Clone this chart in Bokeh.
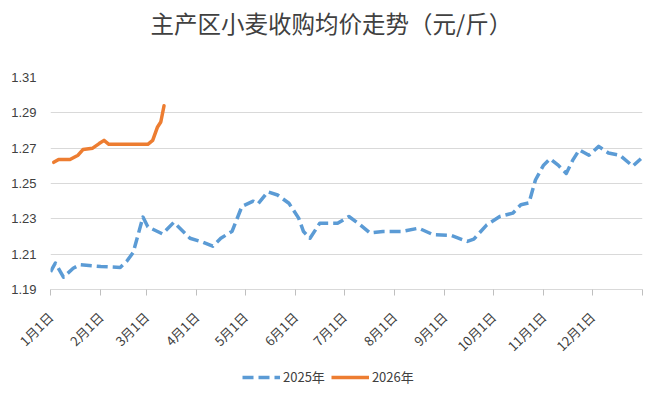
import pandas as pd
from bokeh.plotting import figure
from bokeh.layouts import column
from bokeh.models import (FixedTicker, Legend, LegendItem, NumeralTickFormatter)
from bokeh.embed import file_html
from bokeh.resources import INLINE

# ---------------- data ----------------
title_text = "主产区小麦收购均价走势（元/斤）"

dates_2025 = ["01-01", "01-04", "01-09", "01-15", "01-19", "02-01", "02-13", "02-17",
              "02-21", "02-27", "03-02", "03-11", "03-18", "03-28", "04-05", "04-11",
              "04-16", "04-23", "04-29", "05-06", "05-09", "05-15", "05-21", "05-28",
              "06-03", "06-06", "06-10", "06-16", "06-27", "07-04", "07-11", "07-17",
              "07-25", "08-05", "08-16", "08-25", "09-05", "09-15", "09-19", "09-27",
              "10-05", "10-13", "10-18", "10-23", "10-27", "11-01", "11-05", "11-10",
              "11-15", "11-19", "11-23", "11-29", "12-05", "12-11", "12-18", "12-26",
              "12-31"]
price_2025 = [1.200, 1.205, 1.197, 1.202, 1.204, 1.203, 1.2025, 1.206,
              1.211, 1.231, 1.2255, 1.2215, 1.228, 1.219, 1.2168, 1.2145,
              1.219, 1.223, 1.237, 1.240, 1.2385, 1.2453, 1.2435, 1.2388,
              1.2304, 1.2228, 1.219, 1.2275, 1.2275, 1.2313, 1.2266, 1.222,
              1.2228, 1.2228, 1.2247, 1.221, 1.2206, 1.2172, 1.2185, 1.2266,
              1.2313, 1.2332, 1.238, 1.239, 1.252, 1.2604, 1.264, 1.2604,
              1.2557, 1.2632, 1.269, 1.266, 1.271, 1.2673, 1.266, 1.2598,
              1.2640]

dates_2026 = ["01-03", "01-06", "01-13", "01-18", "01-21", "01-27", "01-31", "02-03",
              "02-06", "02-17", "03-02", "03-05", "03-08", "03-10", "03-12"]
price_2026 = [1.262, 1.2636, 1.2636, 1.266, 1.2692, 1.270, 1.2726, 1.2744,
              1.2722, 1.2722, 1.2722, 1.2744, 1.282, 1.2848, 1.294]

month_starts = ["01-01", "02-01", "03-01", "04-01", "05-01", "06-01", "07-01", "08-01",
                "09-01", "10-01", "11-01", "12-01"]
month_labels = ["1月1日", "2月1日", "3月1日", "4月1日", "5月1日", "6月1日", "7月1日",
                "8月1日", "9月1日", "10月1日", "11月1日", "12月1日"]
y_ticks = [1.19, 1.21, 1.23, 1.25, 1.27, 1.29, 1.31]
series_names = ["2025年", "2026年"]

COLOR_25 = "#5B9BD5"
COLOR_26 = "#ED7D31"
DASH_25 = "11 5"
FONT = "Noto Sans CJK SC"
TEXT_COLOR = "#404040"


def day_of_year(md, year):
    return (pd.Timestamp(f"{year}-{md}") - pd.Timestamp(f"{year}-01-01")).days


x25 = [day_of_year(d, 2025) for d in dates_2025]
x26 = [day_of_year(d, 2026) for d in dates_2026]
tick_days = [day_of_year(d, 2025) for d in month_starts] + [365]

W = 658
H_HEAD, H_MAIN, H_LEG = 45, 322, 29

# ---------- header (title) ----------
head = figure(width=W, height=H_HEAD, output_backend="svg", toolbar_location=None,
              x_axis_location=None, y_axis_location=None, min_border=0,
              title=title_text)
head.outline_line_color = None
head.grid.grid_line_color = None
head.title.align = "left"
head.title.offset = 100
head.title.text_font = FONT
head.title.text_font_size = "23.5px"
head.title.text_font_style = "normal"
head.title.text_color = TEXT_COLOR
head.title.standoff = 12

# ---------- main chart ----------
p = figure(width=W, height=H_MAIN, output_backend="svg", toolbar_location=None,
           x_range=(0, 365), y_range=(1.19, 1.31),
           min_border_left=50, min_border_right=16, min_border_top=77 - H_HEAD,
           min_border_bottom=H_HEAD + H_MAIN - 289)
p.outline_line_color = None

s25 = p.line(x25, price_2025, line_color=COLOR_25, line_width=3.5,
             line_dash=DASH_25, line_join="round")
s26 = p.line(x26, price_2026, line_color=COLOR_26, line_width=3.5,
             line_join="round", line_cap="round")

p.xaxis.ticker = FixedTicker(ticks=tick_days)
overrides = {d: lab for d, lab in zip(tick_days, month_labels)}
overrides[365] = ""
p.xaxis.major_label_overrides = overrides
p.xaxis.major_label_orientation = 0.785398
p.xaxis.major_label_text_font = FONT
p.xaxis.major_label_text_font_size = "13px"
p.xaxis.major_label_text_color = TEXT_COLOR
p.xaxis.major_label_standoff = 19
p.xaxis.axis_line_color = "#D9D9D9"
p.xaxis.major_tick_line_color = "#BFBFBF"
p.xaxis.major_tick_in = 0
p.xaxis.major_tick_out = 6
p.xaxis.minor_tick_line_color = None
p.xgrid.grid_line_color = None

p.yaxis.ticker = FixedTicker(ticks=y_ticks)
p.yaxis.formatter = NumeralTickFormatter(format="0.00")
p.yaxis.axis_line_color = None
p.yaxis.major_tick_line_color = None
p.yaxis.minor_tick_line_color = None
p.yaxis.major_label_text_font = "Liberation Sans"
p.yaxis.major_label_text_font_size = "13px"
p.yaxis.major_label_text_color = TEXT_COLOR
p.yaxis.major_label_standoff = 8
p.ygrid.ticker = FixedTicker(ticks=y_ticks)
p.ygrid.grid_line_color = "#D9D9D9"
p.ygrid.grid_line_width = 1

# ---------- legend strip ----------
# the same series are drawn here outside the visible y range, only to feed the legend
leg = figure(width=W, height=H_LEG, output_backend="svg", toolbar_location=None,
             x_axis_location=None, y_axis_location=None, min_border=0,
             x_range=(0, 365), y_range=(0, 1))
leg.outline_line_color = None
leg.grid.grid_line_color = None
k25 = leg.line(x25, price_2025, line_color=COLOR_25, line_width=3.5, line_dash=DASH_25)
k26 = leg.line(x26, price_2026, line_color=COLOR_26, line_width=3.5)
legend = Legend(items=[LegendItem(label=series_names[0], renderers=[k25]),
                       LegendItem(label=series_names[1], renderers=[k26])],
                orientation="horizontal", location=(192, 10),
                label_text_font=FONT, label_text_font_size="13px",
                label_text_color=TEXT_COLOR, glyph_width=38, glyph_height=16,
                label_height=16, label_standoff=3, spacing=6, padding=0, margin=0,
                border_line_color=None, background_fill_alpha=0)
leg.add_layout(legend, "center")

layout = column(head, p, leg, spacing=0)
open("out.html", "w").write(file_html(layout, INLINE))
